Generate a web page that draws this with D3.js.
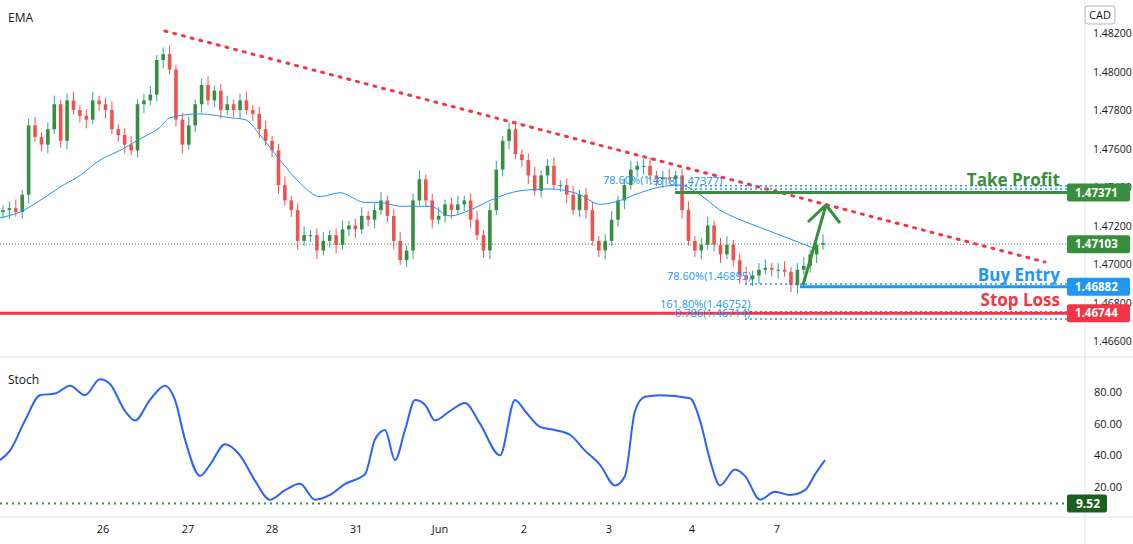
<!DOCTYPE html>
<html><head><meta charset="utf-8">
<script src="https://cdn.jsdelivr.net/npm/d3@7"></script>
<style>body{margin:0;background:#fff;font-family:"Open Sans",Roboto,sans-serif}</style>
</head><body><div id="chart"></div>
<script>
// closing prices, roughly 12 bars per day
const closes = [1.4728,1.4729,1.4727,1.4736,1.4772,1.4766,1.4762,1.4770,1.4783,1.4764,1.4785,1.4780,1.4777,1.4775,1.4785,1.4783,1.4780,1.4770,1.4767,1.4762,1.4759,1.4783,1.4785,1.4788,1.4806,1.4809,1.4801,1.4775,1.4762,1.4772,1.4783,1.4793,1.4785,1.4790,1.4780,1.4783,1.4780,1.4785,1.4780,1.4778,1.4770,1.4764,1.4759,1.4741,1.4733,1.4728,1.4712,1.4715,1.4715,1.4707,1.4712,1.4715,1.4710,1.4718,1.4720,1.4718,1.4725,1.4723,1.4728,1.4733,1.4725,1.4712,1.4702,1.4707,1.4733,1.4744,1.4733,1.4723,1.4725,1.4731,1.4728,1.4731,1.4733,1.4723,1.4715,1.4707,1.4728,1.4749,1.4764,1.4770,1.4757,1.4754,1.4746,1.4738,1.4746,1.4751,1.4741,1.4741,1.4736,1.4728,1.4736,1.4728,1.4712,1.4707,1.4712,1.4723,1.4733,1.4741,1.4749,1.4751,1.4751,1.4746,1.4744,1.4745,1.4744,1.4746,1.4728,1.4712,1.4707,1.4710,1.4720,1.4710,1.4705,1.4710,1.4702,1.4694,1.4692,1.4694,1.4697,1.4698,1.4697,1.4697,1.4696,1.4689,1.4697,1.4699,1.4705,1.4710,1.4711];
const emaX = [0,20,40,60,80,100,120,140,160,170,200,230,245,260,280,300,320,340,365,380,400,430,450,470,490,520,550,580,600,620,640,660,680,700,720,740,760,780,800,815];
const emaV = [1.4724,1.4727,1.4733,1.4740,1.4746,1.4754,1.4759,1.4765,1.4771,1.4776,1.4778,1.4776,1.4775,1.4767,1.4754,1.4742,1.4735,1.4737,1.4732,1.4732,1.4730,1.4730,1.4725,1.4728,1.4733,1.4738,1.4739,1.4736,1.4731,1.4733,1.4737,1.4740,1.4741,1.4736,1.4728,1.4723,1.4719,1.4715,1.4711,1.4708];
const stochX = [0,10,25,40,55,70,85,100,110,125,135,150,165,175,185,200,210,225,240,255,270,285,300,315,330,345,365,375,385,395,405,415,425,435,450,465,480,500,515,525,540,555,570,585,600,615,625,635,645,660,690,700,710,720,735,745,760,775,790,805,815,825];
const stochV = [37,43,62,78,79,84,78,88,85,68,62,75,84,75,50,27,34,47,40,24,12,18,22,12,15,22,28,50,56,37,56,75,72,62,68,73,60,40,75,68,58,56,53,43,34,21,27,68,77,78,76,62,37,21,31,27,12,17,15,18,28,37];
const priceTicks = [1.482,1.480,1.478,1.476,1.474,1.472,1.470,1.468,1.466];
const stochTicks = [80,60,40,20];
const dayLabels = ["26","27","28","31","Jun","2","3","4","7"];
const dayPos = [103,188,272,356,440,524,609,692,777];
const markers = [
  {label:"1.47371", v:1.47371, color:"#388e3c"},
  {label:"1.47103", v:1.47103, color:"#388e3c"},
  {label:"1.46882", v:1.46882, color:"#2196f3"},
  {label:"1.46744", v:1.46744, color:"#f23645"}
];

const W = 1133, H = 544, plotR = 1085;
const svg = d3.select("#chart").append("svg").attr("width", W).attr("height", H);
const y = d3.scaleLinear().domain([1.466, 1.482]).range([341, 33]);
const ys = d3.scaleLinear().domain([20, 80]).range([487, 392]);
const x = d3.scaleLinear().domain([0, closes.length - 1]).range([3, 823]);
const bw = 3.6;

// separators
svg.append("line").attr("x1",plotR).attr("x2",plotR).attr("y1",0).attr("y2",H).attr("stroke","#e0e3eb");
svg.append("line").attr("x1",0).attr("x2",W).attr("y1",357).attr("y2",357).attr("stroke","#e0e3eb");
svg.append("line").attr("x1",0).attr("x2",W).attr("y1",517).attr("y2",517).attr("stroke","#e0e3eb");

// candles
const green = "#388e3c", red = "#ef5350";
closes.forEach((c, i) => {
  const o = i ? closes[i-1] : c - 0.0001;
  const up = c >= o;
  const hi = Math.max(o, c) + 0.00025 + (i % 3) * 0.0001;
  const lo = Math.min(o, c) - 0.00025 - ((i + 1) % 3) * 0.0001;
  svg.append("line").attr("x1", x(i)).attr("x2", x(i)).attr("y1", y(hi)).attr("y2", y(lo))
    .attr("stroke", up ? "#26a69a" : red);
  const t = y(Math.max(o, c)), b = y(Math.min(o, c));
  svg.append("rect").attr("x", x(i) - bw/2).attr("width", bw)
    .attr("y", t).attr("height", Math.max(1, b - t)).attr("fill", up ? green : red);
});

// EMA
svg.append("path").datum(emaX.map((d,i)=>[d, emaV[i]]))
  .attr("d", d3.line().x(d=>d[0]).y(d=>y(d[1])).curve(d3.curveMonotoneX))
  .attr("fill","none").attr("stroke","#2196f3").attr("stroke-width",1);

// current price dotted
svg.append("line").attr("x1",0).attr("x2",plotR).attr("y1",y(1.47103)).attr("y2",y(1.47103))
  .attr("stroke","#388e3c").attr("stroke-dasharray","1,2");

// trend line
svg.append("line").attr("x1",165).attr("y1",y(1.4821)).attr("x2",1045).attr("y2",y(1.4701))
  .attr("stroke","#f23645").attr("stroke-width",3).attr("stroke-dasharray","2,7").attr("stroke-linecap","round");

// fib dotted lines
const dotted = [[675,1.47406],[675,1.47390],[745,1.46896],[745,1.46752],[745,1.46714]];
dotted.forEach(d => svg.append("line").attr("x1",d[0]).attr("x2",plotR).attr("y1",y(d[1])).attr("y2",y(d[1]))
  .attr("stroke","#2196f3").attr("stroke-width",1.5).attr("stroke-dasharray","2,3"));

// levels
svg.append("line").attr("x1",675).attr("x2",plotR).attr("y1",y(1.47371)).attr("y2",y(1.47371)).attr("stroke","#388e3c").attr("stroke-width",3);
svg.append("line").attr("x1",800).attr("x2",plotR).attr("y1",y(1.46882)).attr("y2",y(1.46882)).attr("stroke","#2196f3").attr("stroke-width",3);
svg.append("line").attr("x1",0).attr("x2",plotR).attr("y1",y(1.46744)).attr("y2",y(1.46744)).attr("stroke","#f23645").attr("stroke-width",3);

// fib labels
const fibTxt = [[603,y(1.4740)-3,"78.60%(1.4"],[647,y(1.4740)-2,"1.618(1.47377)"],[667,y(1.46896)-4,"78.60%(1.46895)"],[660,y(1.46752)-4,"161.80%(1.46752)"],[675,y(1.46714)-2,"0.786(1.46714)"]];
fibTxt.forEach(d => svg.append("text").attr("x",d[0]).attr("y",d[1]).attr("font-size",11).attr("fill","#2196f3").text(d[2]));

// arrow
svg.append("path").attr("d","M803,285 L826,205 M808,222 L826,205 L840,223")
  .attr("fill","none").attr("stroke","#388e3c").attr("stroke-width",3);

// level text
[["Take Profit",186,"#388e3c"],["Buy Entry",281,"#2196f3"],["Stop Loss",306,"#f23645"]].forEach(d =>
  svg.append("text").attr("x",1060).attr("y",d[1]).attr("text-anchor","end").attr("font-size",17)
    .attr("font-weight","bold").attr("fill",d[2]).text(d[0]));

// price axis
svg.selectAll(".pt").data(priceTicks).enter().append("text")
  .attr("x",1093).attr("y",d=>y(d)+4).attr("font-size",10.5).attr("fill","#131722").text(d=>d.toFixed(5));
markers.forEach(m => {
  svg.append("rect").attr("x",1067).attr("y",y(m.v)-9).attr("width",63).attr("height",18).attr("rx",2).attr("fill",m.color);
  svg.append("text").attr("x",1075).attr("y",y(m.v)+4).attr("font-size",11.5).attr("font-weight","bold").attr("fill","#fff").text(m.label);
});
svg.append("rect").attr("x",1085).attr("y",6).attr("width",30).attr("height",18).attr("rx",3).attr("fill","#fff").attr("stroke","#b2b5be");
svg.append("text").attr("x",1100).attr("y",19).attr("text-anchor","middle").attr("font-size",11).attr("fill","#131722").text("CAD");

svg.append("text").attr("x",8).attr("y",22).attr("font-size",12).attr("fill","#131722").text("EMA");
svg.append("text").attr("x",8).attr("y",384).attr("font-size",12).attr("fill","#131722").text("Stoch");

// stochastic
svg.append("path").datum(stochX.map((d,i)=>[d, stochV[i]]))
  .attr("d", d3.line().x(d=>d[0]).y(d=>ys(d[1])).curve(d3.curveMonotoneX))
  .attr("fill","none").attr("stroke","#2962ff").attr("stroke-width",2);
svg.append("line").attr("x1",0).attr("x2",plotR).attr("y1",ys(9.52)).attr("y2",ys(9.52))
  .attr("stroke","#388e3c").attr("stroke-width",2).attr("stroke-dasharray","2,4");
svg.selectAll(".st").data(stochTicks).enter().append("text")
  .attr("x",1094).attr("y",d=>ys(d)+4).attr("font-size",11).attr("fill","#131722").text(d=>d.toFixed(2));
svg.append("rect").attr("x",1067).attr("y",ys(9.52)-9).attr("width",40).attr("height",18).attr("rx",2).attr("fill","#1b5e20");
svg.append("text").attr("x",1076).attr("y",ys(9.52)+4).attr("font-size",12).attr("font-weight","bold").attr("fill","#fff").text("9.52");

// time axis
dayLabels.forEach((d,i) => svg.append("text").attr("x",dayPos[i]).attr("y",533).attr("text-anchor","middle")
  .attr("font-size",11).attr("fill","#131722").text(d));
</script></body></html>
